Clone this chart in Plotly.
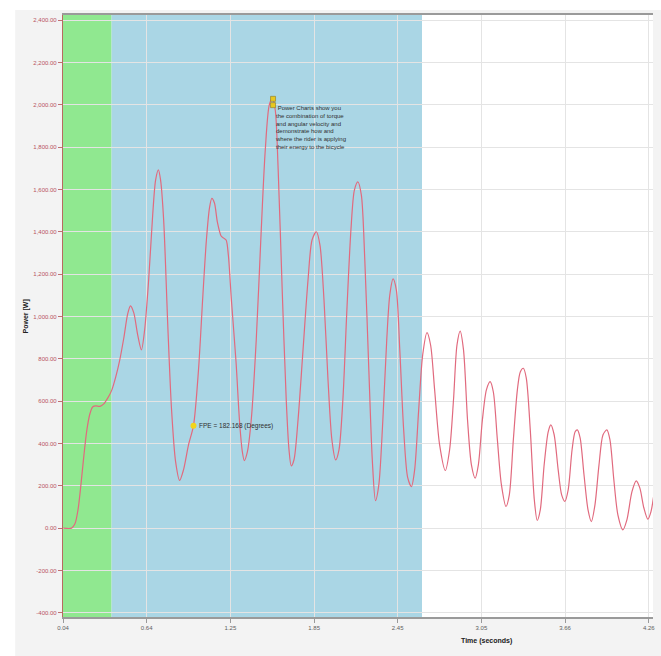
import plotly.graph_objects as go

# ---- data ----
time_s = [0.042, 0.102, 0.126, 0.148, 0.169, 0.191, 0.212, 0.234, 0.255, 0.277,
          0.306, 0.334, 0.363, 0.392, 0.420, 0.449, 0.478, 0.506, 0.526, 0.550,
          0.578, 0.605, 0.628, 0.657, 0.686, 0.707, 0.727, 0.743, 0.765, 0.796,
          0.822, 0.851, 0.880, 0.908, 0.944, 0.980, 1.016, 1.047, 1.073, 1.095,
          1.112, 1.131, 1.152, 1.179, 1.195, 1.215, 1.231, 1.253, 1.287, 1.311,
          1.332, 1.346, 1.368, 1.396, 1.432, 1.468, 1.497, 1.526, 1.549, 1.569,
          1.590, 1.619, 1.648, 1.668, 1.684, 1.704, 1.733, 1.769, 1.805, 1.834,
          1.865, 1.891, 1.920, 1.949, 1.977, 2.004, 2.028, 2.056, 2.085, 2.114,
          2.139, 2.164, 2.189, 2.214, 2.243, 2.268, 2.291, 2.315, 2.344, 2.372,
          2.394, 2.418, 2.441, 2.466, 2.494, 2.523, 2.550, 2.573, 2.602, 2.631,
          2.662, 2.688, 2.717, 2.753, 2.794, 2.825, 2.853, 2.878, 2.901, 2.925,
          2.954, 2.982, 3.009, 3.032, 3.061, 3.090, 3.117, 3.140, 3.169, 3.198,
          3.231, 3.255, 3.284, 3.313, 3.334, 3.356, 3.377, 3.406, 3.435, 3.456,
          3.478, 3.506, 3.535, 3.554, 3.578, 3.607, 3.632, 3.655, 3.679, 3.707,
          3.729, 3.745, 3.765, 3.793, 3.822, 3.846, 3.872, 3.901, 3.930, 3.958,
          3.980, 4.008, 4.037, 4.073, 4.102, 4.138, 4.169, 4.195, 4.224, 4.253,
          4.275, 4.296]
power_w = [0, 0, 20, 86, 204, 346, 464, 540, 573, 577,
           575, 587, 615, 653, 714, 795, 898, 1012, 1050, 1017,
           913, 842, 936, 1172, 1479, 1644, 1692, 1644, 1456, 937,
           559, 314, 225, 275, 393, 484, 747, 1093, 1361, 1512,
           1558, 1536, 1446, 1380, 1371, 1361, 1290, 1078, 780, 511,
           360, 319, 360, 511, 889, 1408, 1786, 1999, 2030, 1975,
           1692, 1125, 606, 370, 294, 323, 511, 842, 1172, 1361,
           1400, 1337, 1078, 700, 417, 322, 370, 606, 1031, 1408,
           1597, 1636, 1574, 1267, 748, 322, 130, 204, 511, 889,
           1101, 1177, 1125, 842, 464, 238, 196, 275, 558, 818,
           923, 865, 653, 393, 272, 370, 606, 865, 931, 842,
           511, 299, 236, 299, 511, 653, 692, 643, 417, 205,
           102, 157, 417, 653, 738, 755, 710, 464, 134, 36,
           86, 299, 455, 488, 441, 275, 157, 126, 181, 370,
           455, 464, 426, 252, 86, 31, 110, 299, 441, 464,
           417, 228, 63, -8, 39, 171, 223, 190, 96, 42,
           77, 157]

green_band = [0.04, 0.390]
blue_band = [0.390, 2.626]

x_tick_vals = [0.04, 0.643, 1.246, 1.849, 2.451, 3.054, 3.657, 4.26]
x_tick_text = ["0.04", "0.64", "1.25", "1.85", "2.45", "3.05", "3.66", "4.26"]
y_tick_vals = [-400, -200, 0, 200, 400, 600, 800, 1000, 1200, 1400, 1600, 1800, 2000, 2200, 2400]
y_tick_text = ["-400.00", "-200.00", "0.00", "200.00", "400.00", "600.00", "800.00",
               "1,000.00", "1,200.00", "1,400.00", "1,600.00", "1,800.00",
               "2,000.00", "2,200.00", "2,400.00"]

fpe_point = [0.980, 484]
fpe_label = "FPE = 182.168 (Degrees)"
peak_marker_t = [1.553, 1.553]
peak_marker_p = [2028, 1998]
note_text = ("\u00a0Power Charts show you<br>the combination of torque<br>"
             "and angular velocity and<br>demonstrate how and<br>"
             "where the rider is applying<br>their energy to the bicycle")
note_pos = [1.554, 2010]

FONT = "Liberation Sans, Arial, sans-serif"

fig = go.Figure()
fig.add_trace(go.Scatter(x=time_s, y=power_w, mode="lines",
                         line=dict(color="#e16a7e", width=1.2, shape="spline", smoothing=0.8),
                         hoverinfo="skip", showlegend=False))
fig.add_trace(go.Scatter(x=[fpe_point[0]], y=[fpe_point[1]], mode="markers",
                         marker=dict(color="#f2d41a", size=6, line=dict(width=0)),
                         showlegend=False, hoverinfo="skip"))
fig.add_trace(go.Scatter(x=peak_marker_t, y=peak_marker_p, mode="markers",
                         marker=dict(color="#e8c820", size=5, symbol="square",
                                     line=dict(width=0.6, color="#8a7a20")),
                         showlegend=False, hoverinfo="skip"))

# bands
fig.add_shape(type="rect", xref="x", yref="paper", x0=green_band[0], x1=green_band[1],
              y0=0, y1=1, fillcolor="#90e890", line=dict(width=0), layer="below")
fig.add_shape(type="rect", xref="x", yref="paper", x0=blue_band[0], x1=blue_band[1],
              y0=0, y1=1, fillcolor="#aad6e5", line=dict(width=0), layer="below")
# white strips at the top/left of the gray panel
fig.add_shape(type="rect", xref="paper", yref="paper", x0=-0.2, x1=1.2,
              y0=1.0083, y1=1.1, fillcolor="white", line=dict(width=0), layer="below")
fig.add_shape(type="rect", xref="paper", yref="paper", x0=-0.2, x1=-0.081,
              y0=-0.2, y1=1.2, fillcolor="white", line=dict(width=0), layer="below")

fig.add_annotation(x=fpe_point[0] + 0.028, y=fpe_point[1], xref="x", yref="y",
                   text=fpe_label, showarrow=False, xanchor="left", yanchor="middle",
                   font=dict(family=FONT, size=6.5, color="#303030"))
fig.add_annotation(x=note_pos[0], y=note_pos[1], xref="x", yref="y",
                   text=note_text, showarrow=False, xanchor="left", yanchor="top",
                   align="left", font=dict(family=FONT, size=6, color="#303030"))
fig.add_annotation(x=0.718, y=-0.04, xref="paper", yref="paper",
                   text="<b>Time (seconds)</b>", showarrow=False,
                   xanchor="center", yanchor="middle",
                   font=dict(family=FONT, size=7, color="#202020"))
fig.add_annotation(x=-0.062, y=0.5, xref="paper", yref="paper",
                   text="<b>Power [W]</b>", showarrow=False, textangle=-90,
                   xanchor="center", yanchor="middle",
                   font=dict(family=FONT, size=7, color="#202020"))

fig.update_layout(
    width=661, height=656,
    margin=dict(l=63, r=6, t=15, b=39),
    paper_bgcolor="#f3f3f3",
    plot_bgcolor="white",
    showlegend=False,
    xaxis=dict(range=[0.04, 4.29], tickvals=x_tick_vals, ticktext=x_tick_text,
               showgrid=True, gridcolor="#e4e4e4", gridwidth=1, zeroline=False,
               showline=True, linecolor="#9a9a9a", linewidth=1.5, mirror=True,
               ticks="outside", ticklen=4, tickcolor="#9a9a9a",
               tickfont=dict(family=FONT, size=6, color="#606060")),
    yaxis=dict(range=[-420, 2424], tickvals=y_tick_vals, ticktext=y_tick_text,
               showgrid=True, gridcolor="#e4e4e4", gridwidth=1, zeroline=False,
               showline=True, linecolor="#b86a60", linewidth=1.2,
               ticks="outside", ticklen=4, tickcolor="#c07070",
               tickfont=dict(family=FONT, size=6, color="#b85262")),
)

fig.write_html("out.html", config={"displayModeBar": False},
               post_script="document.body.style.margin='0';document.body.style.overflow='hidden';")
